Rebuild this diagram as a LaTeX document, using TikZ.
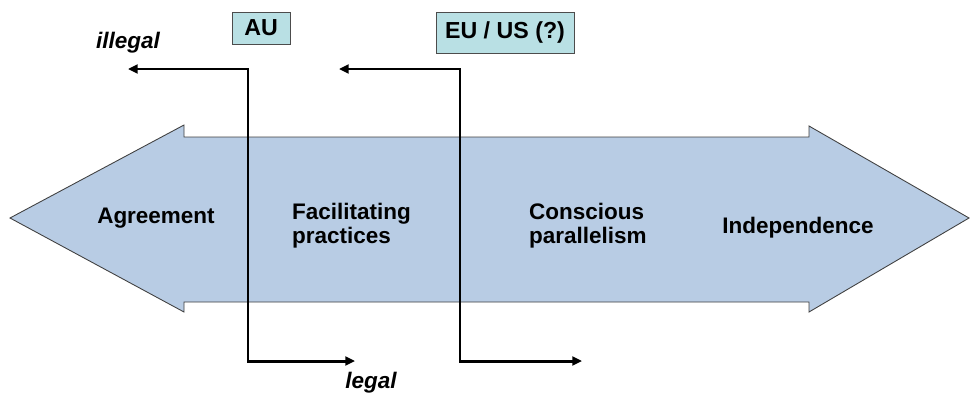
\documentclass[tikz,border=0pt]{standalone}
\usepackage{fontspec}
\setmainfont{Liberation Sans}
\usetikzlibrary{arrows.meta}
\definecolor{shaftblue}{RGB}{184,204,228}
\definecolor{tagcyan}{RGB}{185,224,228}

\begin{document}
\begin{tikzpicture}[x=0.02cm,y=-0.02cm]
\tikzstyle{stage} = [font=\fontsize{12.8}{13.5}\selectfont\bfseries,inner sep=1pt]
\tikzstyle{tag} = [draw=black!70,fill=tagcyan,font=\fontsize{13.2}{14}\selectfont\bfseries,inner sep=0pt]
\tikzstyle{verdict} = [font=\fontsize{12.8}{13.5}\selectfont\bfseries\itshape,inner sep=1pt]
\tikzstyle{cut} = [arrows={Triangle[length=5.5pt,width=5pt]-Triangle[length=5.5pt,width=5pt]},line width=1.7pt]
\useasboundingbox (0,0) rectangle (970,396);

% the scale from agreement to independence
\draw[fill=shaftblue,draw=black!75,line width=0.5pt] (10,218) -- (184,125) -- (184,137) -- (809,137) -- (809,126) -- (969,218) -- (809,312) -- (809,302) -- (184,302) -- (184,312) -- cycle;

\node[stage] (agree) at (156,218) {Agreement};
\node[stage,align=left,anchor=west] (facil) at (290,226) {Facilitating\\practices};
\node[stage,align=left,anchor=west] (consc) at (527,226) {Conscious\\parallelism};
\node[stage] (indep) at (798,228) {Independence};

% where the line is drawn
\node[tag,minimum width=58*0.02cm,minimum height=32*0.02cm] (au) at (261,28) {AU};
\node[tag,minimum width=138*0.02cm,minimum height=41*0.02cm] (euus) at (505,32.5) {EU / US (?)};
\node[verdict] (illegal) at (128,43) {illegal};
\node[verdict] (legal) at (371,383) {legal};

\coordinate (auTop) at (128,69);
\coordinate (auBot) at (248,361);
\coordinate (auEnd) at (355,361);
\coordinate (euTop) at (339,69);
\coordinate (euBot) at (460,361);
\coordinate (euEnd) at (582,361);

\draw[cut] (auTop) -| (auBot) -- (auEnd);
\draw[cut] (euTop) -| (euBot) -- (euEnd);
\end{tikzpicture}
\end{document}
